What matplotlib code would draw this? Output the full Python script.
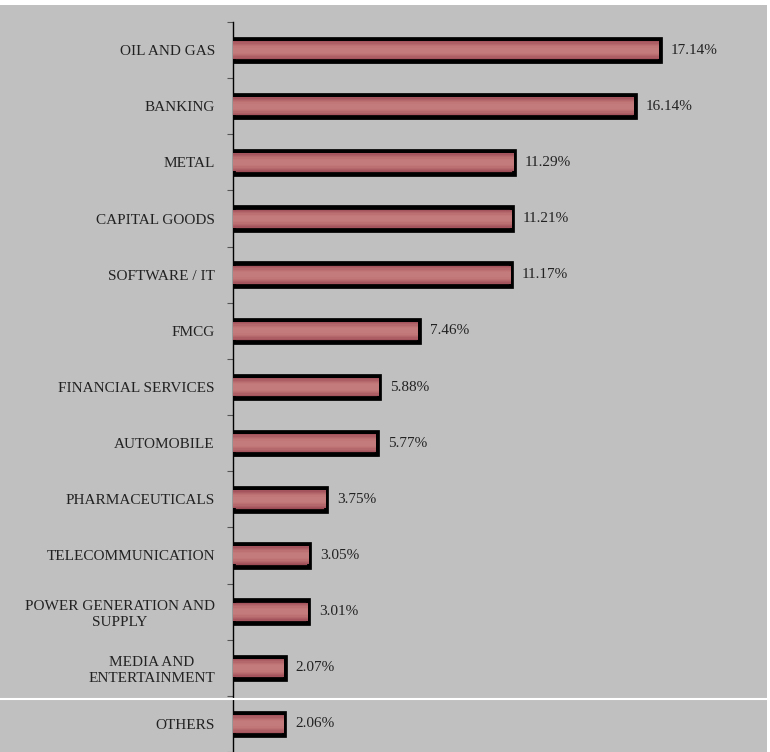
import matplotlib
matplotlib.use("Agg")
from matplotlib import pyplot as plt
from matplotlib.patches import Rectangle
from matplotlib.lines import Line2D

# sector weights
sectors = ["OIL AND GAS", "BANKING", "METAL", "CAPITAL GOODS", "SOFTWARE / IT",
           "FMCG", "FINANCIAL SERVICES", "AUTOMOBILE", "PHARMACEUTICALS",
           "TELECOMMUNICATION", "POWER GENERATION AND\nSUPPLY",
           "MEDIA AND\nENTERTAINMENT", "OTHERS"]
weights = [17.14, 16.14, 11.29, 11.21, 11.17, 7.46, 5.88, 5.77, 3.75,
           3.05, 3.01, 2.07, 2.06]
value_labels = ["%.2f%%" % w for w in weights]

plt.rcParams['font.family'] = ['Liberation Serif', 'DejaVu Serif']

W, H = 770, 752
fig = plt.figure(figsize=(W / 100, H / 100), dpi=100, facecolor="white")

# gray panel behind everything
fig.patches.append(Rectangle((0, 0), 767 / W, 747 / H, transform=fig.transFigure,
                             facecolor="#c0c0c0", edgecolor="none", zorder=-10))

ax = fig.add_axes([233 / W, 0, (767 - 233) / W, 1 - 22 / H])
ax.set_facecolor("none")

pos = list(range(len(sectors)))
bar_h = 0.40

# shadow
ax.barh([p + 0.04 for p in pos], weights, height=bar_h, left=0.05,
        color="#8a8a8a", edgecolor="none", zorder=1)
# outer black frame
ax.barh(pos, weights, height=bar_h, color="#9c4c55", edgecolor="black",
        linewidth=3.4, zorder=2)
# fake the vertical gradient with stacked inner bars
shades = ["#a4545c", "#ad5e64", "#b5686c", "#bc7072", "#c17777", "#c47b7b"]
for i, c in enumerate(shades):
    h = bar_h * 0.80 * (1 - i / (len(shades) + 1))
    ax.barh(pos, [w - 0.03 for w in weights], height=h, left=0.015,
            color=c, edgecolor="none", zorder=3)

for p, w, t in zip(pos, weights, value_labels):
    ax.text(w + 0.44, p, t, va="center", ha="left", fontsize=11, color="#222222")

ax.set_xlim(0, 21.45)
ax.set_ylim(len(sectors) - 0.5, -0.5)

ax.set_yticks(pos)
ax.set_yticklabels(sectors, fontsize=11, color="#222222", multialignment="center",
                   linespacing=1.3)
ax.tick_params(axis="y", which="major", length=0, pad=13)
ax.set_yticks([p - 0.5 for p in range(len(sectors) + 1)], minor=True)
ax.tick_params(axis="y", which="minor", length=4, color="#555555", width=0.8)
ax.set_xticks([])

for s in ["top", "right", "bottom"]:
    ax.spines[s].set_visible(False)
ax.spines["left"].set_linewidth(1.0)
ax.spines["left"].set_color("black")

# white separator line across the panel
fig.lines.append(Line2D([0, 767 / W], [1 - 699 / H, 1 - 699 / H], transform=fig.transFigure,
                        color="white", linewidth=1.5, zorder=5))

fig.savefig("out.png", dpi=100, facecolor="white")
